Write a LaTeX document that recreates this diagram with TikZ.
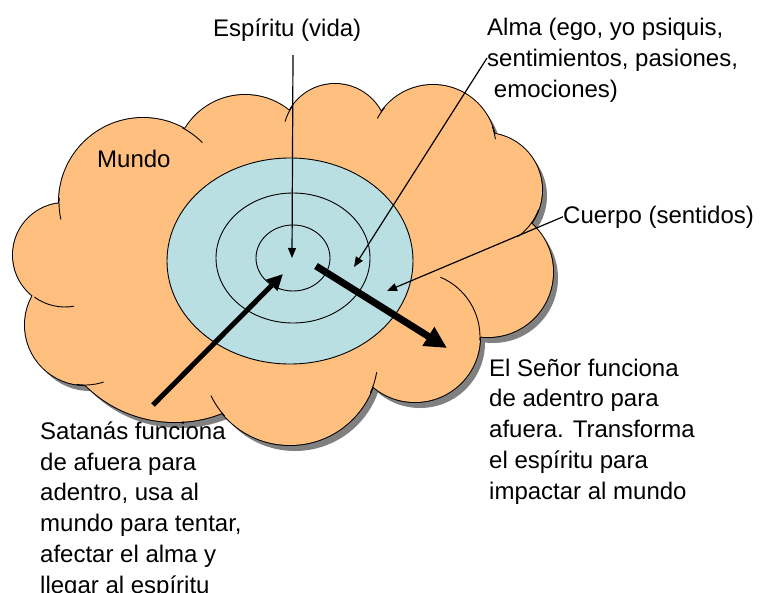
\documentclass[tikz,border=0pt]{standalone}
\usepackage{fontspec}
\setmainfont{Liberation Sans}
\usetikzlibrary{arrows.meta,positioning}
\definecolor{mundo}{RGB}{255,191,127}
\definecolor{cuerpo}{RGB}{186,223,227}
\definecolor{sombra}{RGB}{128,128,128}
\def\lobes{245/165/70, 335/136/52, 433/148/63, 485/190/57, 488/272/65,
  415/337/65, 290/357/88, 175/295/127, 85/325/60, 65/255/52, 143/202/84}

\begin{document}
\begin{tikzpicture}[x=1pt,y=-1pt,
    texto/.style={inner sep=0pt, anchor=base west, align=left,
                  font=\fontsize{24}{30.7}\selectfont},
    thinarrow/.style={line width=1.2pt, -{Triangle[length=10pt,width=8pt]}},
    satarrow/.style={line width=5pt, -{Triangle[length=16pt,width=15pt]}},
    senarrow/.style={line width=7pt, -{Triangle[length=22pt,width=21pt]}},
    ring/.style={line width=0.9pt, draw=black},
    tail/.style={line width=0.9pt, black},
  ]
\useasboundingbox (0,0) rectangle (760,592);

% cloud: shadow, outline, fill
\foreach \cx/\cy/\r in \lobes
  \fill[sombra] (\cx+5,\cy+6) circle[radius=\r];
\foreach \cx/\cy/\r in \lobes
  \draw[line width=2pt] (\cx,\cy) circle[radius=\r];
\foreach \cx/\cy/\r in \lobes
  \fill[mundo] (\cx,\cy) circle[radius=\r];
\fill[mundo] (300,270) ellipse[x radius=200, y radius=120];

% inner arcs of the lobes
\foreach \cx/\cy/\r/\a/\b in {143/202/84/-62/-45, 335/136/52/-146/-164,
    433/148/63/-140/-152, 433/148/63/-20/-8, 485/190/57/20/55,
    415/337/65/3/-67, 290/357/88/10/24, 290/357/88/138/154,
    85/325/60/98/72, 143/202/84/183/168, 65/255/52/126/80}
  \draw[tail] ([shift={(\cx,\cy)}]\a:\r) arc[start angle=\a, end angle=\b, radius=\r];

% espiritu, alma, cuerpo
\filldraw[ring, fill=cuerpo] (290,261) ellipse[x radius=123, y radius=103];
\draw[ring] (293,258) ellipse[x radius=77, y radius=65];
\draw[ring] (293,258) ellipse[x radius=37, y radius=33];

% multi-line texts sit on the baseline of their last line
\node[texto] (espiritu) at (213,36) {Espíritu (vida)};
\node[texto] (alma) at (487,97) {Alma (ego, yo psiquis,\\sentimientos, pasiones,\\\hspace*{.28em}emociones)};
\node[texto] (mundotxt) at (97,167) {Mundo};
\node[texto] (cuerpotxt) at (563,223) {Cuerpo (sentidos)};
\node[texto] (senor) at (489,499) {El Señor funciona\\de adentro para\\afuera. Transforma\\el espíritu para\\impactar al mundo};
\node[texto] (satanas) at (40,593) {Satanás funciona\\de afuera para\\adentro, usa al\\mundo para tentar,\\afectar el alma y\\llegar al espíritu};

\coordinate (esptop) at (293,55);
\coordinate (espin) at (292,258);
\coordinate (almatop) at (487,58);
\coordinate (almain) at (354,267);
\coordinate (cuerpoin) at (387,291);
\coordinate (satout) at (153,405);
\coordinate (satin) at (283,274);
\coordinate (senin) at (316,266);
\coordinate (senout) at (447,348);

\draw[thinarrow] (esptop) -- (espin);
\draw[thinarrow] (almatop) -- (almain);
\draw[thinarrow] (cuerpotxt.west) -- (cuerpoin);
\draw[satarrow] (satout) -- (satin);
\draw[senarrow] (senin) -- (senout);

\end{tikzpicture}
\end{document}
